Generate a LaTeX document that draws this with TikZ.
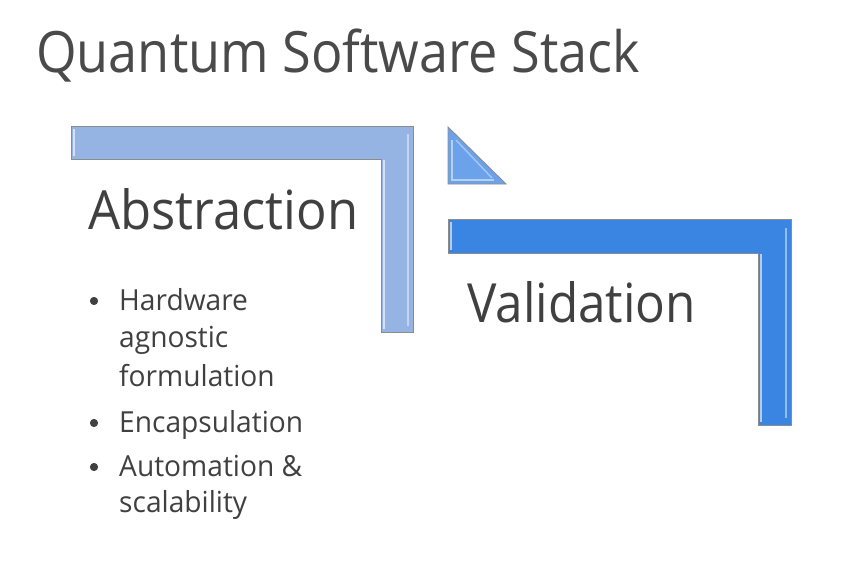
\documentclass[tikz,border=0pt]{standalone}
\usepackage{fontspec}
\setmainfont{Open Sans}
\definecolor{inkgray}{HTML}{404040}
\definecolor{titlegray}{HTML}{4A4A4A}
\definecolor{paleblue}{HTML}{95B3E3}
\definecolor{midblue}{HTML}{6CA2EA}
\definecolor{deepblue}{HTML}{3A84E2}
\definecolor{edgegray}{HTML}{8C8C8C}
% narrow a line of text horizontally
\newcommand{\squeeze}[2]{\scalebox{#1}[1]{#2}}
\begin{document}
\begin{tikzpicture}[x=1pt,y=-1pt,
  txt/.style={anchor=base west,inner sep=0pt,text=inkgray},
  bevel/.style={draw=edgegray,line width=0.9pt,line join=miter},
  shine/.style={draw=white,opacity=0.6,line width=1.4pt},
  dot/.style={circle,fill=inkgray,draw=inkgray,line width=0.6pt,inner sep=0pt,minimum size=7.5pt}]
\useasboundingbox[fill=white] (0,0) rectangle (841,570);

% title
\node[txt,text=titlegray,font=\fontsize{57}{60}\selectfont] (title) at (36,72) {\squeeze{0.916}{Quantum Software Stack}};

% upper L-shaped bracket
\path[bevel,fill=paleblue] (71,126) -- (413,126) -- (413,332) -- (381,332) -- (381,159) -- (71,159) -- cycle;
\draw[shine] (74,129) -- (74,156);
\draw[shine] (384,160) -- (384,329);
\draw[shine,opacity=0.45] (408,134) -- (408,326);

% small triangle
\path[bevel,fill=midblue] (448,127) -- (448,184) -- (506,184) -- cycle;
\draw[shine,opacity=0.5] (452,140) -- (452,180) -- (494,180);
\draw[shine,opacity=0.4] (456,140) -- (492,178);

% lower L-shaped bracket
\path[bevel,fill=deepblue] (448,219) -- (791,219) -- (791,425) -- (758,425) -- (758,253) -- (448,253) -- cycle;
\draw[shine] (451,222) -- (451,250);
\draw[shine] (761,254) -- (761,422);
\draw[shine,opacity=0.45] (786,228) -- (786,418);

% headings
\node[txt,font=\fontsize{54}{60}\selectfont] (abs) at (88,229) {\squeeze{0.94}{Abstraction}};
\node[txt,font=\fontsize{54}{60}\selectfont] (val) at (467,322) {\squeeze{0.915}{Validation}};

% bullet list
\begin{scope}[every node/.append style={font=\fontsize{29}{32}\selectfont}]
\node[dot] (b1) at (94,301) {};
\node[txt] (l1) at (119,310) {\squeeze{0.97}{Hardware}};
\node[txt] (l2) at (119,347) {\squeeze{0.97}{agnostic}};
\node[txt] (l3) at (119,386) {\squeeze{0.97}{formulation}};
\node[dot] (b2) at (94,423) {};
\node[txt] (l4) at (119,432) {\squeeze{0.97}{Encapsulation}};
\node[dot] (b3) at (94,467) {};
\node[txt] (l5) at (119,476) {\squeeze{0.97}{Automation \&}};
\node[txt] (l6) at (119,512) {\squeeze{0.97}{scalability}};
\end{scope}
\end{tikzpicture}
\end{document}
